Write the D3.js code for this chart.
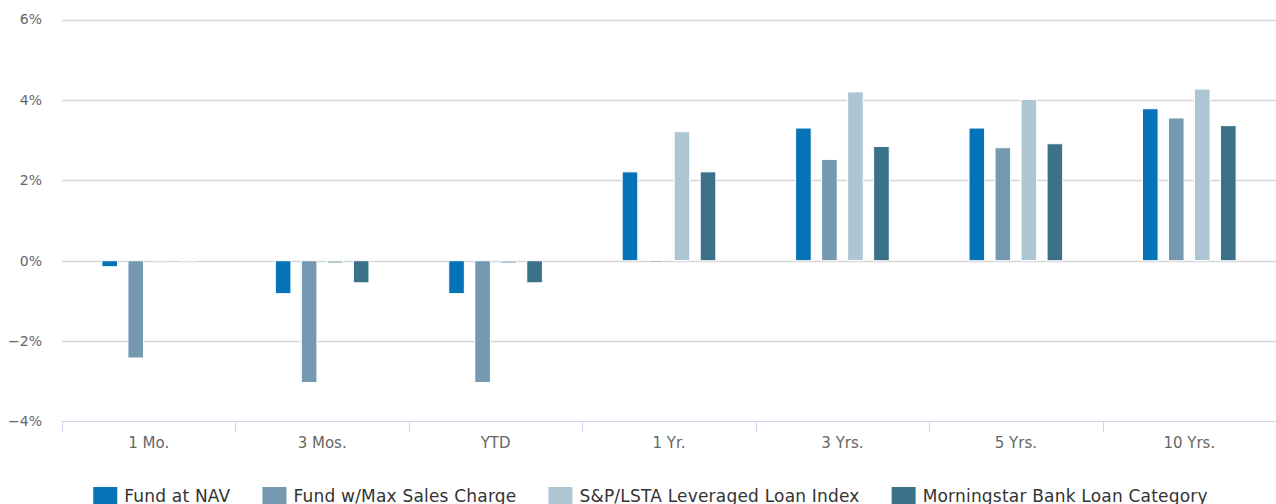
<!DOCTYPE html>
<html>
<head>
<meta charset="utf-8">
<script src="https://cdn.jsdelivr.net/npm/d3@7"></script>
<style>
  html, body { margin: 0; padding: 0; background: #fff; }
  svg { display: block; font-family: "DejaVu Sans", sans-serif; }
</style>
</head>
<body>
<svg id="chart" width="1276" height="504"></svg>
<script>
// Trailing returns by period (%)
const categories = ["1 Mo.", "3 Mos.", "YTD", "1 Yr.", "3 Yrs.", "5 Yrs.", "10 Yrs."];
const seriesNames = ["Fund at NAV", "Fund w/Max Sales Charge", "S&P/LSTA Leveraged Loan Index", "Morningstar Bank Loan Category"];
const fundAtNav      = [-0.15, -0.82, -0.82, 2.21, 3.30, 3.30, 3.78];
const fundMaxCharge  = [-2.42, -3.03, -3.03, -0.04, 2.52, 2.81, 3.55];
const loanIndex      = [0.03, -0.07, -0.07, 3.21, 4.20, 4.01, 4.27];
const bankLoanCat    = [0.02, -0.55, -0.55, 2.21, 2.84, 2.91, 3.36];
const yTicks = [-4, -2, 0, 2, 4, 6];

const seriesValues = [fundAtNav, fundMaxCharge, loanIndex, bankLoanCat];
const colors = ["#0673b8", "#7499b0", "#aec6d3", "#3b7189"];

const svg = d3.select("#chart");
const plot = { left: 62, right: 1276, top: 19.5, bottom: 421.5 };

const x = d3.scaleBand().domain(categories).range([plot.left, plot.right]).paddingInner(0).paddingOuter(0);
const xInner = d3.scaleBand().domain(d3.range(seriesNames.length))
  .range([x.bandwidth() * 0.2, x.bandwidth() * 0.8]).paddingInner(0.4).paddingOuter(0.2);
const y = d3.scaleLinear().domain([-4, 6]).range([plot.bottom, plot.top]);

// horizontal grid lines
svg.append("g").selectAll("line").data(yTicks.filter(d => d !== -4)).join("line")
  .attr("x1", plot.left).attr("x2", plot.right)
  .attr("y1", d => Math.round(y(d)) + 0.5).attr("y2", d => Math.round(y(d)) + 0.5)
  .attr("stroke", "#d6d6d6").attr("stroke-width", 1.3);

// y axis labels
const yAxis = d3.axisLeft(y).tickValues(yTicks).tickSize(0).tickPadding(0)
  .tickFormat(d => (d < 0 ? "\u2212" + Math.abs(d) : d) + "%");
const yg = svg.append("g").attr("transform", `translate(42,0)`).call(yAxis);
yg.select(".domain").remove();
yg.selectAll("text").attr("font-size", 14).attr("fill", "#666").attr("font-family", "DejaVu Sans");

// bars
const groups = svg.append("g").selectAll("g").data(seriesValues).join("g")
  .attr("fill", (d, i) => colors[i]);
groups.each(function(vals, si) {
  d3.select(this).selectAll("rect").data(vals).join("rect")
    .attr("x", (v, ci) => x(categories[ci]) + xInner(si))
    .attr("width", xInner.bandwidth())
    .attr("y", v => Math.min(y(v), y(0)))
    .attr("height", v => Math.abs(y(v) - y(0)))
    .attr("stroke", "#fff").attr("stroke-width", 1);
});

// x axis
const xAxis = d3.axisBottom(x).tickSize(0).tickPadding(0);
const xg = svg.append("g").attr("transform", `translate(0,${plot.bottom})`).call(xAxis);
xg.select(".domain").remove();
xg.selectAll("text").attr("font-size", 15).attr("fill", "#666").attr("font-family", "DejaVu Sans")
  .attr("dy", null).attr("y", 26.5);
svg.append("line").attr("x1", plot.left).attr("x2", plot.right)
  .attr("y1", plot.bottom).attr("y2", plot.bottom).attr("stroke", "#ccd6eb");
const bounds = categories.map(c => x(c)).concat([plot.right]);
svg.append("g").selectAll("line").data(bounds).join("line")
  .attr("x1", d => Math.round(d) + 0.5).attr("x2", d => Math.round(d) + 0.5)
  .attr("y1", plot.bottom).attr("y2", plot.bottom + 10.5)
  .attr("stroke", "#ccd6eb");

// legend
const legend = svg.append("g").attr("transform", "translate(0,487)");
const items = legend.selectAll("g").data(seriesNames).join("g");
items.append("rect").attr("width", 24).attr("height", 17).attr("fill", (d, i) => colors[i]);
items.append("text").attr("x", 31).attr("y", 15).attr("font-size", 17)
  .attr("letter-spacing", 0.2).attr("fill", "#333")
  .text(d => d);
let cx = 0;
const offsets = [];
items.each(function(d) {
  offsets.push(cx);
  cx += 31 + d3.select(this).select("text").node().getComputedTextLength() + 32;
});
const total = cx - 32;
const startX = 650.5 - total / 2;
items.attr("transform", (d, i) => `translate(${startX + offsets[i]},0)`);
</script>
</body>
</html>
